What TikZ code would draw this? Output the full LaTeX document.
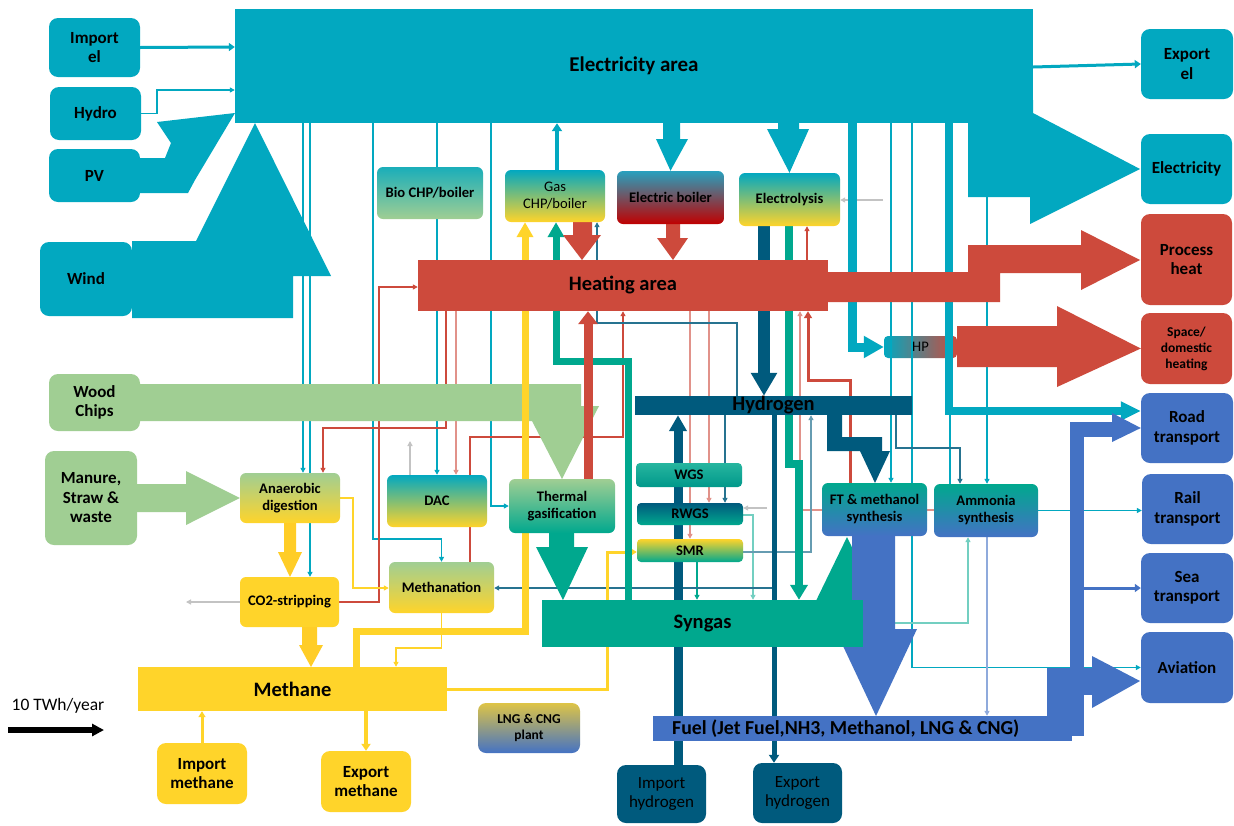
\documentclass[tikz,border=0pt]{standalone}
\usepackage{fontspec}
\setmainfont{Carlito}
\usetikzlibrary{arrows.meta}

\definecolor{elec}{RGB}{2,168,192}
\definecolor{heat}{RGB}{205,74,60}
\definecolor{wood}{RGB}{160,206,147}
\definecolor{meth}{RGB}{255,212,42}
\definecolor{syng}{RGB}{0,168,142}
\definecolor{hyd}{RGB}{0,90,125}
\definecolor{fuel}{RGB}{68,114,196}
\definecolor{boil}{RGB}{192,0,0}
\definecolor{eboil}{RGB}{40,160,190}
\definecolor{lngtop}{RGB}{222,196,70}
\definecolor{cotwo}{RGB}{195,195,195}

\newcommand\fbig{\fontsize{17}{19.5}\selectfont\bfseries}
\newcommand\fbigreg{\fontsize{17}{19.5}\selectfont}
\newcommand\fmid{\fontsize{14.6}{17}\selectfont\bfseries}
\newcommand\freg{\fontsize{14.6}{17}\selectfont}
\newcommand\fsmall{\fontsize{13.5}{16}\selectfont\bfseries}
\newcommand\farea{\fontsize{20.5}{22.5}\selectfont\bfseries}

\pgfdeclarelayer{under}
\pgfdeclarelayer{lines}
\pgfdeclarelayer{flows}
\pgfdeclarelayer{blocks}
\pgfsetlayers{under,lines,flows,blocks,main}

\begin{document}
\begin{tikzpicture}[x=1pt,y=-1pt,
  outbox/.style={rounded corners=9pt, inner sep=0pt, align=center, font=\fbig, text=black},
  procbox/.style={rounded corners=6pt, inner sep=0pt, align=center, font=\fmid, text=black},
  blockbox/.style={inner sep=0pt, font=\farea, text=black},
  sz/.style 2 args={minimum width=#1pt, minimum height=#2pt},
  tip/.style={-{Triangle[length=5pt,width=5pt]}},
  eln/.style={draw=elec, line width=1.2pt, tip},
  hln/.style={draw=heat, line width=1.2pt, tip},
  hlnl/.style={draw=heat!60, line width=1.2pt, tip},
  hyln/.style={draw=hyd!85, line width=1.2pt, tip},
  gln/.style={draw=cotwo, line width=1.2pt, tip},
  yln/.style={draw=meth, line width=1.6pt, tip},
  sln/.style={draw=syng, line width=1.2pt, tip},
  fln/.style={draw=fuel!60, line width=1.2pt, tip}
]
\useasboundingbox (0,0) rectangle (1234,825);
\begin{pgfonlayer}{under}
  \fill[white] (0,0) rectangle (1234,825);
  \node[procbox, rounded corners=4pt, left color=elec, right color=heat, sz={73}{22}, font=\freg, text=black] (hp) at (920.5,347) {HP};
\end{pgfonlayer}

% ---------- source, sink and process boxes ----------
\node[outbox, fill=elec, sz={91}{59}] (impel) at (94.5,47.5) {Import\\el};
\node[outbox, fill=elec, sz={91}{53}] (hydro) at (95.5,113.5) {Hydro};
\node[outbox, fill=elec, sz={91}{53}] (pv) at (94.5,175.5) {PV};
\node[outbox, fill=elec, sz={92}{74}] (wind) at (86,279) {Wind};
\node[outbox, fill=wood, sz={91}{57}] (woodc) at (94.5,402.5) {Wood\\Chips};
\node[outbox, fill=wood, sz={92}{94}] (manure) at (91,498) {Manure,\\Straw \&\\waste};
\node[outbox, fill=elec, sz={92}{70}] (expel) at (1187,64) {Export\\el};
\node[outbox, fill=elec, sz={91}{70}] (elecout) at (1186.5,169) {Electricity};
\node[outbox, fill=heat, sz={91}{91}] (procheat) at (1186.5,259.5) {Process\\heat};
\node[outbox, fill=heat, sz={91}{71}, font=\fsmall] (space) at (1186.5,348.5) {Space/\\domestic\\heating};
\node[outbox, fill=fuel, sz={92}{70}] (road) at (1187,428) {Road\\transport};
\node[outbox, fill=fuel, sz={91}{70}] (rail) at (1187.5,509) {Rail\\transport};
\node[outbox, fill=fuel, sz={92}{70}] (sea) at (1187,588) {Sea\\transport};
\node[outbox, fill=fuel, sz={92}{71}] (avi) at (1187,667.5) {Aviation};
\node[outbox, fill=meth, sz={90}{61}] (impch4) at (202,773.5) {Import\\methane};
\node[outbox, fill=meth, sz={90}{61}] (expch4) at (366,781.5) {Export\\methane};
\node[procbox, rounded corners=8pt, top color=lngtop, bottom color=fuel, sz={102}{50}, font=\fsmall] (lng) at (529,728) {LNG \& CNG\\plant};
\node[outbox, fill=hyd, sz={89}{58}, font=\fbigreg] (imph2) at (661.5,794) {Import\\hydrogen};
\node[outbox, fill=hyd, sz={89}{60}, font=\fbigreg] (exph2) at (797.5,793) {Export\\hydrogen};

\node[procbox, top color=elec!85!wood, bottom color=wood, sz={106}{52}] (bio) at (430,193) {Bio CHP/boiler};
\node[procbox, top color=elec, bottom color=meth, sz={100}{52}, font=\freg] (gchp) at (555,196) {Gas\\CHP/boiler};
\node[procbox, top color=eboil, bottom color=boil, sz={107}{53}] (eboiler) at (670.5,197.5) {Electric boiler};
\node[procbox, top color=elec, bottom color=meth, sz={101}{53}] (elys) at (789.5,199.5) {Electrolysis};
\node[procbox, top color=wood, bottom color=meth, sz={100}{50}] (ad) at (290,498) {Anaerobic\\digestion};
\node[procbox, fill=meth, sz={99}{50}] (co2s) at (289.5,602) {CO2-stripping};
\node[procbox, top color=elec, bottom color=meth, sz={100}{52}] (dac) at (437,501) {DAC};
\node[procbox, top color=wood, bottom color=syng, sz={106}{54}] (therm) at (562,506) {Thermal\\gasification};
\node[procbox, top color=wood, bottom color=meth, sz={105}{51}] (mtn) at (441.5,587.5) {Methanation};
\node[procbox, rounded corners=4pt, top color=syng!85!white, bottom color=syng!80!hyd, sz={106}{24}] (wgs) at (689,475) {WGS};
\node[procbox, rounded corners=4pt, top color=hyd, bottom color=syng, sz={106}{22}] (rwgs) at (690,514) {RWGS};
\node[procbox, rounded corners=4pt, top color=meth, bottom color=syng, sz={106}{23}] (smr) at (690,550.5) {SMR};
\node[procbox, top color=syng, bottom color=fuel, sz={105}{53}] (ft) at (874.5,509.5) {FT \& methanol\\synthesis};
\node[procbox, top color=syng, bottom color=fuel, sz={104}{53}] (amm) at (986,510.5) {Ammonia\\synthesis};

% scale legend
\node[font=\fontsize{17.5}{19}\selectfont] (scale) at (58,706) {10 TWh/year};
\coordinate (sa) at (8,730);
\coordinate (sb) at (104,730);
\draw[line width=5.5pt, -{Triangle[length=12pt,width=12pt]}] (sa) -- (sb);

% ---------- area blocks ----------
\begin{pgfonlayer}{blocks}
  \node[blockbox, fill=elec, sz={798}{114}, font=\fontsize{21}{23}\selectfont\bfseries] (elarea) at (634,66) {Electricity area};
  \node[blockbox, fill=heat, sz={410}{51}] (heatarea) at (623,285.5) {Heating area};
  \node[blockbox, fill=hyd, sz={277}{19}] (h2bar) at (773.5,405.5) {Hydrogen};
  \node[blockbox, fill=syng, sz={321}{47}] (synbar) at (702.5,623.5) {Syngas};
  \node[blockbox, fill=meth, sz={309}{44}] (ch4bar) at (292.5,689) {Methane};
  \node[blockbox, fill=fuel, sz={419}{25}] (fuelbar) at (862.5,728.5) {};
  \node[font=\fontsize{19.8}{21}\selectfont\bfseries, anchor=west, inner sep=0pt] (fuellabel) at (672,729) {Fuel (Jet Fuel,NH3, Methanol, LNG \& CNG)};

  % electricity outlet to final demand
  \fill[elec] (968,100) -- (1033,100) -- (1033,113) -- (1140,169) -- (1030,224) -- (1030,197) -- (968,197) -- cycle;
  % process heat outlet
  \fill[heat] (828,272) -- (968,272) -- (968,245) -- (1081,245) -- (1081,230) -- (1140,260) -- (1081,290) -- (1081,273) -- (1000,273) -- (1000,302) -- (828,302) -- cycle;
  % heat pump to space heating
  \fill[heat] (hp.east |- 0,326) -- (1057,326) -- (1057,306) -- (space.west) -- (1057,387) -- (1057,367) -- (hp.east |- 0,367) -- cycle;
  % electricity to boiler and electrolysis
  \fill[elec] (663,123) -- (680,123) -- (680,139) -- (688,139) -- (eboiler.north) -- (656,139) -- (663,139) -- cycle;
  \fill[elec] (778,123) -- (799,123) -- (799,129) -- (809,129) -- (elys.north) -- (767,129) -- (778,129) -- cycle;
  % CHP and boiler heat
  \fill[heat] (573,222) -- (592,222) -- (592,235) -- (601,235) -- (582,260) -- (563,235) -- (573,235) -- cycle;
  \fill[heat] (666,224) -- (680,224) -- (680,238) -- (688,238) -- (673,260) -- (657,238) -- (666,238) -- cycle;
  % gasification to syngas
  \fill[syng] (549,533) -- (574,533) -- (574,547) -- (588,547) -- (563,600) -- (536,547) -- (549,547) -- cycle;
  % biogas chain
  \fill[meth!92!orange] (284,523) -- (296,523) -- (296,552) -- (302,552) -- (290,577) -- (278,552) -- (284,552) -- cycle;
  \fill[meth!92!orange] (302,627) -- (317,627) -- (317,645) -- (323,645) -- (311,667) -- (299,645) -- (302,645) -- cycle;
  % hydrogen to FT synthesis
  \fill[hyd] (827,415) -- (842,415) -- (842,437) -- (882,437) -- (882,451) -- (890,451) -- (875,483) -- (860,451) -- (827,451) -- cycle;
  % PV and wind
  \fill[elec] (140,158) -- (165,158) -- (171,143) -- (157,122) -- (235,113) -- (195,180) -- (188,193) -- (140,193) -- cycle;
  \fill[elec] (132,241) -- (196,241) -- (255,123) -- (331,276) -- (293,276) -- (293,318) -- (132,318) -- cycle;
  % fuel distribution to transport
  \fill[fuel] (1047,668) rectangle (1084,736);
  \fill[fuel] (1070,422) rectangle (1084,668);
  \fill[fuel] (1070,422) rectangle (1112,437);
  \fill[fuel] (1112,413) -- (road.west) -- (1112,442) -- cycle;
  \fill[fuel] (1047,668) rectangle (1092,695);
  \fill[fuel] (1092,656) -- (1140,681) -- (1092,708) -- cycle;
\end{pgfonlayer}

% ---------- thin connectors ----------
\begin{pgfonlayer}{lines}
  % electricity
  \draw[eln] (303,0 |- elarea.south) -- (303,0 |- ad.north);
  \draw[eln] (310,0 |- elarea.south) -- (310,0 |- co2s.north);
  \draw[eln] (373,0 |- elarea.south) -- (373,539) -| (mtn.north);
  \draw[eln] (437,0 |- elarea.south) -- (dac.north);
  \draw[eln] (491,0 |- elarea.south) |- (therm.west);
  \draw[eln] (891,0 |- elarea.south) -- (891,0 |- ft.north);
  \draw[eln] (912,0 |- elarea.south) |- (avi.west);
  \draw[eln] (987,0 |- elarea.south) -- (987,0 |- amm.north);
  \draw[draw=elec, line width=1.2pt] (950,411) -- (950,0 |- amm.north);
  \draw[eln] (amm.east) -- (amm.east -| rail.west);
  \draw[sln, draw=syng!55] (synbar.east |- 0,623) -| (968,0 |- amm.south);
  \draw[line width=1.5pt, draw=elec, tip] (hydro.east) -- (157,113.5) |- (elarea.west |- 0,90);
  % heat
  \draw[hln] (co2s.east) -- (379,602) |- (heatarea.west |- 0,287);
  \draw[hln] (446,0 |- heatarea.south) |- (323,428) -- (323,0 |- ad.north);
  \draw[hlnl] (456,0 |- heatarea.south) -- (456,0 |- dac.north);
  \draw[hln] (470,0 |- mtn.north) -- (470,437) -| (623,0 |- heatarea.south);
  \draw[hlnl] (690,0 |- heatarea.south) -- (690,0 |- smr.north);
  \draw[hlnl] (709,0 |- heatarea.south) -- (709,0 |- rwgs.north);
  \draw[hln, line width=1.5pt] (807,0 |- heatarea.north) -- (807,0 |- elys.south);
  \draw[hlnl] (amm.west |- 0,510) -| (800,0 |- heatarea.south);
  \draw[heat, line width=3pt, -{Triangle[length=7pt,width=8pt]}] (850,0 |- ft.north) |- (808,380) -- (808,0 |- heatarea.south);
  % CO2
  \draw[gln] (co2s.west) -- (186,602);
  \draw[gln] (410,0 |- dac.north) -- (410,441);
  \draw[gln] (767,508) -- (rwgs.east |- 0,508);
  \draw[gln] (883,200) -- (elys.east |- 0,200);
  % methane
  \draw[yln] (ad.east) -| (353,588) -- (mtn.west |- 0,588);
  \draw[yln] (mtn.south) |- (396,648) -- (396,0 |- ch4bar.north);
  % syngas
  \draw[sln] (697,0 |- smr.south) -- (697,0 |- synbar.north);
  \draw[sln, draw=syng!55] (rwgs.east |- 0,515) -| (753,0 |- synbar.north);
  % hydrogen
  \draw[hyln] (774,588) -- (mtn.east |- 0,588);
  \draw[hyln] (725,0 |- h2bar.south) -- (725,0 |- rwgs.north);
  \draw[hyln, draw=hyd!60] (smr.east |- 0,552) -| (811,0 |- h2bar.south);
  \draw[hyln] (737,0 |- h2bar.north) |- (597,323) -- (597,0 |- gchp.south);
  \draw[hyln] (896,0 |- h2bar.south) |- (960,448) -- (960,0 |- amm.north);
  % fuel
  \draw[fln] (987,0 |- amm.south) -- (987,0 |- fuelbar.north);
\end{pgfonlayer}

% ---------- main flows ----------
\begin{pgfonlayer}{flows}
  \fill[wood] (woodc.east |- 0,384) -- (581,384) -- (581,406) -- (599,406) -- (562,479) -- (532,421) -- (woodc.east |- 0,421) -- cycle;
  \fill[wood] (manure.east |- 0,484) -- (186,484) -- (186,471) -- (ad.west) -- (186,525) -- (186,512) -- (manure.east |- 0,512) -- cycle;
  \fill[syng] (813,607) -- (847,537) -- (881,607) -- cycle;
  \fill[fuel] (852,536) -- (895,536) -- (895,629) -- (917,629) -- (876,716) -- (835,629) -- (852,629) -- cycle;

  \draw[line width=3pt, elec, -{Triangle[length=6pt,width=8pt]}] (impel.east) -- (elarea.west |- 0,47);
  \draw[line width=3pt, elec, -{Triangle[length=6pt,width=8pt]}] (elarea.east |- 0,67) -- (expel.west);
  \draw[line width=4.5pt, elec, -{Triangle[length=8pt,width=10pt]}] (557,0 |- gchp.north) -- (557,0 |- elarea.south);
  \draw[line width=9pt, elec, -{Triangle[length=20pt,width=21pt]}] (852,0 |- elarea.south) |- (hp.west);
  \draw[line width=8pt, elec, -{Triangle[length=20pt,width=18pt]}] (949,0 |- elarea.south) |- (road.west |- 0,411);

  \draw[meth, line width=7pt, -{Triangle[length=15pt,width=16pt]}] (356,0 |- ch4bar.north) -- (356,631) -| (525,0 |- gchp.south);
  \draw[meth, line width=3pt, -{Triangle[length=6pt,width=7pt]}] (ch4bar.east) -| (607,552) -- (smr.west |- 0,552);
  \draw[meth, line width=3pt, -{Triangle[length=6pt,width=7pt]}] (impch4.north) -- (impch4.north |- ch4bar.south);
  \draw[meth, line width=4pt, -{Triangle[length=7pt,width=9pt]}] (366,0 |- ch4bar.south) -- (expch4.north);

  \draw[syng, line width=7pt, -{Triangle[length=15pt,width=16pt]}] (628,0 |- synbar.north) -- (628,361) -| (556,0 |- gchp.south);
  \draw[syng, line width=8pt, -{Triangle[length=15pt,width=17pt]}] (789,0 |- elys.south) -- (789,464) -- (799,464) -- (799,0 |- synbar.north);
  \draw[heat, line width=9pt, -{Triangle[length=13pt,width=19pt]}] (588,0 |- therm.north) -- (588,0 |- heatarea.south);

  \draw[hyd, line width=12pt, -{Triangle[length=23pt,width=25pt]}] (764,0 |- elys.south) -- (764,0 |- h2bar.north);
  \draw[hyd, line width=9pt, -{Triangle[length=16pt,width=17pt]}] (678,0 |- imph2.north) -- (678,0 |- h2bar.south);
  \draw[hyd, line width=5pt, -{Triangle[length=8pt,width=10pt]}] (774,0 |- h2bar.south) -- (774,0 |- exph2.north);

  \draw[fuel, line width=3pt, -{Triangle[length=6pt,width=8pt]}] (1084,588) -- (sea.west);
\end{pgfonlayer}
\end{tikzpicture}
\end{document}
